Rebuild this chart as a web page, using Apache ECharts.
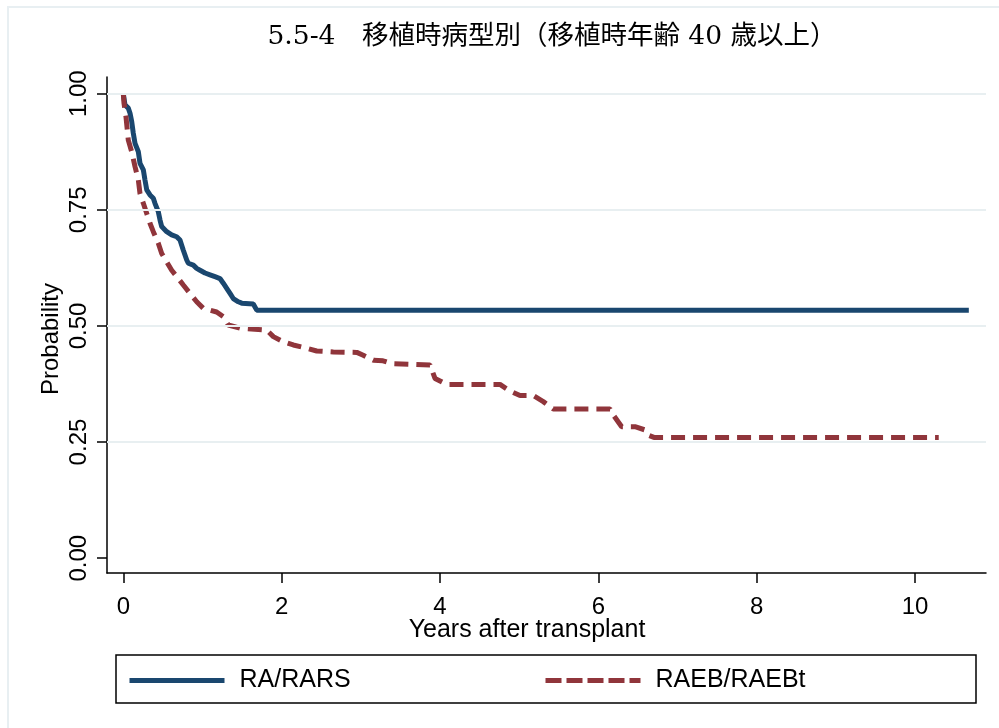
<!DOCTYPE html>
<html>
<head>
<meta charset="utf-8">
<title>5.5-4 移植時病型別</title>
<script src="https://cdn.jsdelivr.net/npm/echarts@6/dist/echarts.min.js"></script>
<style>
    html, body {margin: 0; padding: 0; background: #fff;}
    #km_chart {width: 999px; height: 728px;}
</style>
</head>
<body>
<div id="km_chart"></div>
<script>
// curve vertices (years after transplant, probability)
var raYears = [0, 0.021, 0.063, 0.085, 0.106, 0.126, 0.148, 0.19, 0.211, 0.253, 0.274, 0.296,
    0.337, 0.379, 0.4, 0.442, 0.464, 0.485, 0.548, 0.611, 0.674, 0.716, 0.758, 0.801, 0.821,
    0.884, 0.927, 0.969, 1.032, 1.095, 1.158, 1.221, 1.263, 1.306, 1.348, 1.389, 1.453, 1.496,
    1.642, 1.685, 10.68];
var raProb = [1.0, 0.976, 0.969, 0.958, 0.94, 0.915, 0.893, 0.875, 0.85, 0.836, 0.814, 0.793,
    0.782, 0.775, 0.764, 0.746, 0.728, 0.714, 0.703, 0.696, 0.692, 0.685, 0.663, 0.642, 0.635,
    0.631, 0.624, 0.62, 0.614, 0.61, 0.606, 0.602, 0.592, 0.581, 0.57, 0.559, 0.552, 0.549,
    0.547, 0.534, 0.534];

var raebYears = [0, 0.009, 0.034, 0.063, 0.106, 0.148, 0.19, 0.211, 0.253, 0.296, 0.337, 0.379,
    0.442, 0.485, 0.548, 0.611, 0.695, 0.758, 0.842, 0.927, 1.01, 1.179, 1.263, 1.326, 1.474,
    1.811, 1.895, 2.021, 2.147, 2.317, 2.443, 2.653, 2.95, 3.03, 3.16, 3.28, 3.39, 3.874, 3.937,
    4.085, 4.758, 4.884, 5.011, 5.179, 5.305, 5.431, 6.148, 6.19, 6.295, 6.463, 6.59, 6.63,
    6.703, 10.3];
var raebProb = [1.0, 0.979, 0.95, 0.9, 0.875, 0.843, 0.814, 0.785, 0.764, 0.742, 0.721, 0.703,
    0.678, 0.656, 0.638, 0.62, 0.602, 0.588, 0.57, 0.552, 0.538, 0.53, 0.52, 0.502, 0.495,
    0.491, 0.477, 0.466, 0.459, 0.452, 0.446, 0.444, 0.443, 0.437, 0.426, 0.425, 0.419, 0.416, 0.387,
    0.374, 0.374, 0.36, 0.35, 0.35, 0.337, 0.321, 0.321, 0.308, 0.283, 0.283, 0.276, 0.265,
    0.26, 0.26];

var seriesNames = ['RA/RARS', 'RAEB/RAEBt'];
var xTicks = [0, 2, 4, 6, 8, 10];
var yTicks = [0, 0.25, 0.5, 0.75, 1];
var gridValues = [0.25, 0.5, 0.75, 1];

var toPairs = function (xs, ys) {
    return xs.map(function (x, i) {
        return [x, ys[i]];
    });
};

var sansFont = "'Liberation Sans', Arial, sans-serif";
var blue = '#1a476f';
var maroon = '#90353b';

var chart = echarts.init(document.getElementById('km_chart'));
chart.setOption({
    animation: false,
    title: {
        text: '5.5-4　移植時病型別（移植時年齢 40 歳以上）',
        left: 547,
        top: 19,
        textAlign: 'center',
        textStyle: {
            fontFamily: "'DejaVu Serif', 'Noto Sans CJK JP', serif",
            fontSize: 26.5,
            fontWeight: 'normal',
            color: '#000'
        }
    },
    graphic: [
        // faint outer frame of the graph region
        {type: 'rect', shape: {x: 8, y: 7, width: 1100, height: 800},
            style: {fill: 'none', stroke: '#e8eff2', lineWidth: 2}, silent: true},
        // legend box
        {type: 'rect', shape: {x: 116, y: 655, width: 860, height: 48},
            style: {fill: 'none', stroke: '#000', lineWidth: 1.5}, silent: true},
        // axis titles
        {type: 'text', x: 51, y: 339, rotation: Math.PI / 2, silent: true,
            style: {text: 'Probability', font: "24px 'Liberation Sans', Arial, sans-serif",
                fill: '#000', textAlign: 'center', textVerticalAlign: 'middle'}},
        {type: 'text', x: 527, y: 630, silent: true,
            style: {text: 'Years after transplant', font: "25px 'Liberation Sans', Arial, sans-serif",
                fill: '#000', textAlign: 'center', textVerticalAlign: 'middle'}}
    ],
    legend: [
        {
            data: [seriesNames[0]], left: 122, top: 663,
            itemWidth: 95, itemHeight: 8,
            lineStyle: {width: 5},
            itemStyle: {opacity: 0},
            textStyle: {fontFamily: sansFont, fontSize: 25, color: '#000', padding: [0, 0, 0, 10]}
        },
        {
            data: [seriesNames[1]], left: 538, top: 663,
            itemWidth: 95, itemHeight: 8,
            lineStyle: {width: 5, type: [16, 5]},
            itemStyle: {opacity: 0},
            textStyle: {fontFamily: sansFont, fontSize: 25, color: '#000', padding: [0, 0, 0, 10]}
        }
    ],
    grid: {left: 107, top: 77, right: 13, bottom: 155},
    xAxis: {
        type: 'value',
        min: -0.206,
        max: 10.897,
        axisLine: {onZero: false, lineStyle: {color: '#000', width: 1.5}},
        axisTick: {show: true, length: 10, customValues: xTicks, lineStyle: {color: '#000', width: 1.5}},
        axisLabel: {customValues: xTicks, margin: 22, fontFamily: sansFont, fontSize: 24, color: '#000'},
        splitLine: {show: false}
    },
    yAxis: {
        type: 'value',
        min: -0.032,
        max: 1.036,
        axisLine: {show: true, onZero: false, lineStyle: {color: '#000', width: 1.5}},
        axisTick: {show: true, length: 10, customValues: yTicks, lineStyle: {color: '#000', width: 1.5}},
        axisLabel: {
            customValues: yTicks, rotate: 90, margin: 16,
            fontFamily: sansFont, fontSize: 24, color: '#000',
            formatter: function (v) {
                return v.toFixed(2);
            }
        },
        splitLine: {show: false}
    },
    series: [
        {
            // horizontal grid lines behind the curves
            type: 'line',
            data: [],
            z: 1,
            silent: true,
            markLine: {
                silent: true,
                symbol: 'none',
                label: {show: false},
                lineStyle: {color: '#e8eff1', width: 2, type: 'solid'},
                data: gridValues.map(function (v) {
                    return {yAxis: v};
                })
            }
        },
        {
            name: seriesNames[0],
            type: 'line',
            symbol: 'none',
            z: 3,
            color: blue,
            lineStyle: {color: blue, width: 5},
            data: toPairs(raYears, raProb)
        },
        {
            name: seriesNames[1],
            type: 'line',
            symbol: 'none',
            z: 3,
            color: maroon,
            lineStyle: {color: maroon, width: 5, type: [14, 8]},
            data: toPairs(raebYears, raebProb)
        }
    ]
});
</script>
</body>
</html>
